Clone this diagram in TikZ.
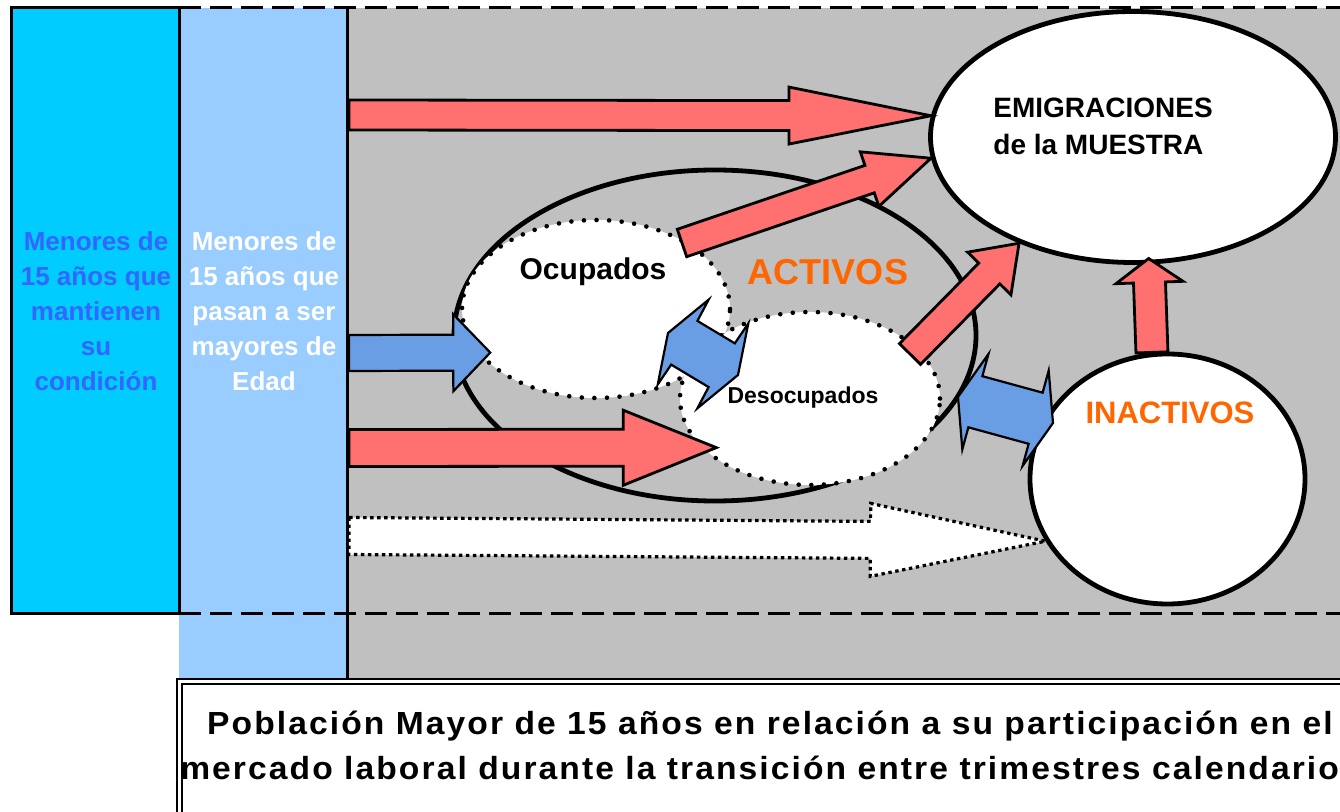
\documentclass[tikz,border=0pt]{standalone}
\usepackage{fontspec}
\setmainfont{Liberation Sans}
\newfontfamily\narrowfont[FakeStretch=1.05,LetterSpace=6.5]{Liberation Sans}
\usetikzlibrary{shapes.geometric,calc}

\definecolor{cyancol}{RGB}{0,204,255}
\definecolor{lightcol}{RGB}{153,204,255}
\definecolor{grayzone}{RGB}{192,192,192}
\definecolor{redfill}{RGB}{255,112,112}
\definecolor{bluefill}{RGB}{105,158,228}
\definecolor{menorblue}{RGB}{51,102,255}
\definecolor{activorange}{RGB}{255,102,0}

% block arrow: [style]{from}{to}{half shaft}{half head}{head length}
\newcommand{\blockarrow}[6][]{%
  \draw[#1] ($(#2)!#4!90:(#3)$)
    -- ($(#3)!#6!(#2)!#4!-90:(#2)$)
    -- ($(#3)!#6!(#2)!#5!-90:(#2)$)
    -- (#3)
    -- ($(#3)!#6!(#2)!#5!90:(#2)$)
    -- ($(#3)!#6!(#2)!#4!90:(#2)$)
    -- ($(#2)!#4!-90:(#3)$) -- cycle;}

% double block arrow: [style]{end}{end}{half shaft}{half head}{barb}{neck}
\newcommand{\doublearrow}[7][]{%
  \draw[#1] (#2)
    -- ($(#2)!#6!(#3)!#5!90:(#3)$)
    -- ($(#2)!#7!(#3)!#4!90:(#3)$)
    -- ($(#3)!#7!(#2)!#4!-90:(#2)$)
    -- ($(#3)!#6!(#2)!#5!-90:(#2)$)
    -- (#3)
    -- ($(#3)!#6!(#2)!#5!90:(#2)$)
    -- ($(#3)!#7!(#2)!#4!90:(#2)$)
    -- ($(#2)!#7!(#3)!#4!-90:(#3)$)
    -- ($(#2)!#6!(#3)!#5!-90:(#3)$) -- cycle;}

\begin{document}
\begin{tikzpicture}[x=0.5pt,y=-0.5pt,
  frame/.style={line width=1.5pt},
  limit/.style={line width=1.5pt,dash pattern=on 11pt off 4.5pt},
  bigell/.style={draw,ellipse,line width=2.4pt,inner sep=0pt},
  dotell/.style={draw,ellipse,fill=white,line width=2.3pt,dash pattern=on 0pt off 6.3pt,line cap=round,inner sep=0pt},
  redarrow/.style={draw,fill=redfill,line width=1.4pt},
  bluearrow/.style={draw,fill=bluefill,line width=1.1pt},
  whitearrow/.style={draw,fill=white,line width=1.6pt,dash pattern=on 1.7pt off 1.8pt},
  coltext/.style={font=\bfseries\fontsize{13}{17.5}\selectfont,align=center,inner sep=0pt}]

\useasboundingbox (0,0) rectangle (1340,812);
\clip (0,0) rectangle (1340,812);

% zones
\fill[grayzone] (347,8) rectangle (1345,680);
\fill[lightcol] (179,8) rectangle (347,680);
\fill[cyancol] (11.5,7.5) rectangle (179,614);
\draw[limit] (179,7.5) -- (1345,7.5);
\draw[limit] (179,614) -- (1345,614);
\draw[frame] (179,7.5) -- (11.5,7.5) -- (11.5,614) -- (179,614);
\draw[frame] (179,7.5) -- (179,614);
\draw[frame] (347.5,7.5) -- (347.5,680);

\node[coltext,text=menorblue] (menores1) at (96,311) {Menores de\\15 años que\\mantienen\\su\\condición};
\node[coltext,text=white] (menores2) at (264,311) {Menores de\\15 años que\\pasan a ser\\mayores de\\Edad};

% states
\node[bigell,minimum width=261pt,minimum height=165.5pt] (activ) at (715,335.5) {};
\node[dotell,minimum width=134pt,minimum height=89pt] (ocup) at (596,309) {};
\node[dotell,minimum width=130pt,minimum height=86.5pt] (desoc) at (810,398.5) {};
\node[bigell,fill=white,minimum width=202.5pt,minimum height=125.5pt] (emig) at (1133,137) {};
\node[bigell,fill=white,minimum width=137.5pt,minimum height=125pt] (inact) at (1167.5,479) {};

\node[font=\bfseries\fontsize{14}{18.5}\selectfont,align=left,anchor=west,inner sep=0pt] (emigtxt) at (993,126.5) {EMIGRACIONES\\de la MUESTRA};
\node[font=\bfseries\fontsize{15}{18}\selectfont,inner sep=0pt] (ocuptxt) at (593,272) {Ocupados};
\node[font=\bfseries\fontsize{18}{22}\selectfont,text=activorange,inner sep=0pt] (activtxt) at (828,272) {ACTIVOS};
\node[font=\bfseries\fontsize{11.5}{14}\selectfont,inner sep=0pt] (desoctxt) at (803,398) {Desocupados};
\node[font=\bfseries\fontsize{15.5}{19}\selectfont,text=activorange,inner sep=0pt] (inacttxt) at (1170,413) {INACTIVOS};

% flows
\coordinate (t1) at (349,115);
\coordinate (h1) at (emig.174);
\coordinate (t2) at (682,243);
\coordinate (h2) at (emig.186);
\coordinate (t3) at (910,354);
\coordinate (h3) at (emig.223);
\coordinate (t4) at (inact.97);
\coordinate (h4) at ([yshift=3pt]emig.277);
\coordinate (t5) at (349,448);
\coordinate (h5) at ([xshift=5pt,yshift=3pt]desoc.208);
\coordinate (t6) at (349,353);
\coordinate (h6) at ([xshift=7pt]ocup.200);
\coordinate (t7) at (349,536);
\coordinate (h7) at (inact.207);

\blockarrow[redarrow]{t1}{h1}{7.5pt}{14.25pt}{71pt}
\blockarrow[redarrow]{t2}{h2}{7.25pt}{14.4pt}{32.4pt}
\blockarrow[redarrow]{t3}{h3}{7.4pt}{15.2pt}{21.2pt}
\blockarrow[redarrow]{t4}{h4}{8pt}{16.75pt}{12pt}
\blockarrow[redarrow]{t5}{h5}{9.25pt}{18.75pt}{46.5pt}
\blockarrow[bluearrow]{t6}{h6}{9pt}{19.25pt}{18.5pt}
\blockarrow[whitearrow]{t7}{h7}{9.25pt}{18.25pt}{87.5pt}

\coordinate (d1) at (668,333);
\coordinate (d2) at (738,375);
\coordinate (d3) at (958,397);
\coordinate (d4) at (1053,423);
\doublearrow[bluearrow]{d1}{d2}{12.75pt}{24.75pt}{8.85pt}{9.5pt}
\doublearrow[bluearrow]{d3}{d4}{13.25pt}{24.7pt}{9pt}{9pt}

% caption
\draw[line width=1.1pt,double,double distance=1.3pt,fill=white] (179.5,681.5) rectangle (1360,840);
\node[font=\narrowfont\bfseries\fontsize{16}{22.5}\selectfont,align=center,inner sep=0pt] (caption) at (770,745) {Población Mayor de 15 años en relación a su participación en el\\mercado laboral durante la transición entre trimestres calendarios};

\end{tikzpicture}
\end{document}
